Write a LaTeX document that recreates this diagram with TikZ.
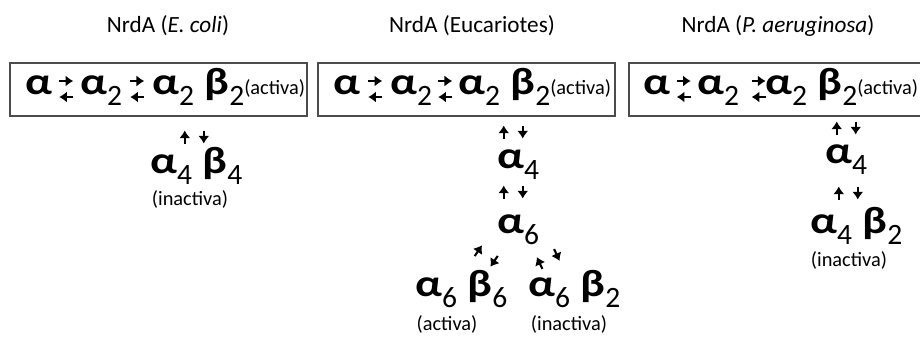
\documentclass[tikz,border=0pt]{standalone}
\usepackage{fontspec}
\setmainfont{Carlito}
\newfontfamily\griega[FakeStretch=1.2]{Carlito}
\usetikzlibrary{arrows.meta,calc}

\newcommand{\subind}[1]{\raisebox{-0.3em}[0pt][0pt]{\rmfamily\mdseries\fontsize{21}{21}\selectfont #1}}
\newcommand{\estado}[1]{\raisebox{0em}{\rmfamily\mdseries\fontsize{14.5}{17}\selectfont #1}}
\newcommand{\equilibrio}[3][0.5]{%
  \draw[flechita] ($(#2.base east)!#1!(#3.base west)+(-7,-13)$) -- ++(14,0);
  \draw[flechita] ($(#2.base east)!#1!(#3.base west)+(7,3)$) -- ++(-14,0);}

\tikzset{
  >={Latex[length=5.5pt,width=8pt]},
  titulo/.style={font=\fontsize{16.5}{18}\selectfont, inner sep=0pt, anchor=base},
  forma/.style={font=\griega\fontsize{27}{29}\selectfont\bfseries, inner sep=0pt, text depth=0pt, anchor=base west},
  estadonota/.style={font=\fontsize{14.5}{17}\selectfont, inner sep=0pt, anchor=base},
  caja/.style={draw=black!70, line width=1.2pt, minimum width=7.43cm, minimum height=1.33cm, inner sep=0pt},
  flechita/.style={->, line width=1.5pt},
  reversible/.pic={
    \draw[flechita] (-9.5,6.5) -- (-9.5,-6.5);
    \draw[flechita] (9.5,-6.5) -- (9.5,6.5);
  },
}

\begin{document}
\begin{tikzpicture}[x=0.025cm, y=-0.025cm]
  \useasboundingbox (0,0) rectangle (920,338);
  % E. coli
  \node[titulo] (t1) at (168,32) {NrdA (\textit{E. coli})};
  \node[caja] (caja1) at (158.5,89.5) {};
  \node[forma] (c1a) at (25,94) {α};
  \node[forma] (c1b) at (80,94) {α\subind{2}};
  \node[forma] (c1c) at (152,94) {α\subind{2} β\subind{2}\estado{(activa)}};
  \equilibrio{c1a}{c1b}
  \equilibrio{c1b}{c1c}
  \node[forma] (c1d) at (150,173) {α\subind{4} β\subind{4}};
  \node[estadonota] (c1e) at (190,205) {(inactiva)};
  \pic at ($(c1d.base)+(-2,-36)$) {reversible};
  % Eucariotes
  \node[titulo] (t2) at (472,32) {NrdA (Eucariotes)};
  \node[caja] (caja2) at (466.5,89.5) {};
  \node[forma] (c2a) at (333,94) {α};
  \node[forma] (c2b) at (390,94) {α\subind{2}};
  \node[forma] (c2c) at (458,94) {α\subind{2} β\subind{2}\estado{(activa)}};
  \equilibrio{c2a}{c2b}
  \equilibrio{c2b}{c2c}
  \node[forma] (c2d) at (497,168) {α\subind{4}};
  \node[forma] (c2e) at (497,233) {α\subind{6}};
  \node[forma] (c2f) at (415,296) {α\subind{6} β\subind{6}};
  \node[forma] (c2g) at (528,296) {α\subind{6} β\subind{2}};
  \node[estadonota] (c2h) at (447,330) {(activa)};
  \node[estadonota] (c2i) at (569,330) {(inactiva)};
  \pic at ($(c2d.base)+(-5,-36)$) {reversible};
  \pic at ($(c2e.base)+(-5,-41)$) {reversible};
  \pic[rotate=-34] at ($(c2e.base)+(-32,23)$) {reversible};
  \pic[rotate=25] at ($(c2e.base)+(30,26)$) {reversible};
  % P. aeruginosa
  \node[titulo] (t3) at (778,32) {NrdA (\textit{P. aeruginosa})};
  \node[caja] (caja3) at (777.5,89.5) {};
  \node[forma] (c3a) at (643,94) {α};
  \node[forma] (c3b) at (697,94) {α\subind{2}};
  \node[forma] (c3c) at (765,94) {α\subind{2} β\subind{2}\estado{(activa)}};
  \equilibrio{c3a}{c3b}
  \equilibrio[0.75]{c3b}{c3c}
  \node[forma] (c3d) at (825,163) {α\subind{4}};
  \node[forma] (c3e) at (810,233) {α\subind{4} β\subind{2}};
  \node[estadonota] (c3f) at (849,266) {(inactiva)};
  \pic at ($(c3d.base)+(0,-35)$) {reversible};
  \pic at ($(c3e.base)+(-8,-40)$) {reversible};
\end{tikzpicture}
\end{document}
